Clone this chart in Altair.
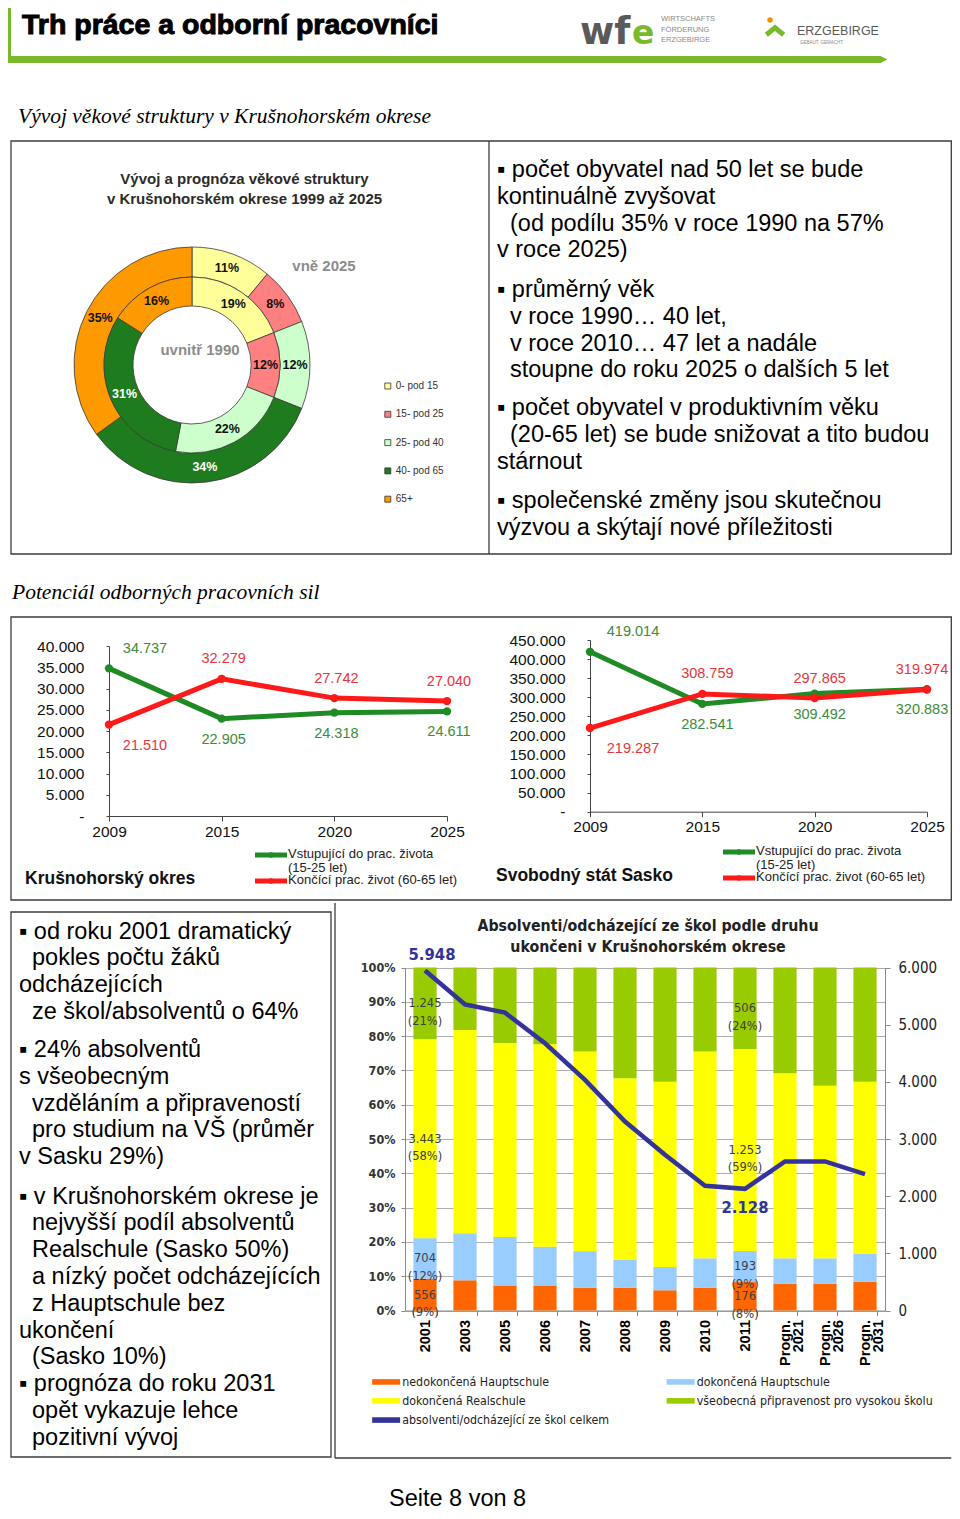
import altair as alt
import pandas as pd

OFF = 8
W, H = 944, 1503
RIGHT = 951.3  # right edge of the frames (page coordinates)


def px(v):
    return v - OFF


SANS = "Liberation Sans"
NARROW = "Liberation Sans Narrow, DejaVu Sans Condensed, Liberation Sans, sans-serif"
SERIF = "Liberation Serif"

# ---------------- data ----------------
age_groups = ["0- pod 15", "15- pod 25", "25- pod 40", "40- pod 65", "65+"]
age_share_1990 = [19, 12, 22, 31, 16]
age_share_2025 = [11, 8, 12, 34, 35]

line_years = ["2009", "2015", "2020", "2025"]
line_series = ["Vstupující do prac. života\n(15-25 let)", "Končící prac. život (60-65 let)"]
krus_entering = [34737, 22905, 24318, 24611]
krus_leaving = [21510, 32279, 27742, 27040]
sax_entering = [419014, 282541, 309492, 320883]
sax_leaving = [219287, 308759, 297865, 319974]

school_years = ["2001", "2003", "2005", "2006", "2007", "2008", "2009", "2010", "2011",
                "Progn. 2021", "Progn. 2026", "Progn. 2031"]
school_types = ["nedokončená Hauptschule", "dokončená Hauptschule", "dokončená Realschule",
                "všeobecná připravenost pro vysokou školu"]
total_name = "absolventi/odcházející ze škol celkem"
share_nedok_haupt = [9.3, 8.8, 7.3, 7.3, 6.6, 6.6, 5.9, 6.6, 8.3, 7.8, 7.8, 8.4]
share_dok_haupt = [11.8, 13.7, 14.1, 11.3, 10.7, 8.2, 6.8, 8.6, 9.1, 7.4, 7.4, 8.2]
share_realschule = [58.0, 59.3, 56.6, 59.0, 58.2, 52.9, 54.0, 60.3, 58.9, 54.0, 50.3, 50.1]
share_gymnasium = [20.9, 18.2, 22.0, 22.4, 24.5, 32.3, 33.3, 24.5, 23.8, 30.8, 34.5, 33.3]
school_totals = [5948, 5355, 5210, 4674, 4034, 3306, 2724, 2183, 2128, 2608, 2608, 2387]
counts_2001 = [556, 704, 3443, 1245]
counts_2011 = [176, 193, 1253, 506]

# text blocks: (indented?, line)
text_age = [
    [(0, "▪ počet obyvatel nad 50 let se bude"), (0, "kontinuálně zvyšovat"),
     (1, "(od podílu 35% v roce 1990 na 57%"), (0, "v roce 2025)")],
    [(0, "▪ průměrný věk"), (1, "v roce 1990… 40 let,"), (1, "v roce 2010… 47 let a nadále"),
     (1, "stoupne do roku 2025 o dalších 5 let")],
    [(0, "▪ počet obyvatel v produktivním věku"), (1, "(20-65 let) se bude snižovat a tito budou"),
     (0, "stárnout")],
    [(0, "▪ společenské změny jsou skutečnou"), (0, "výzvou a skýtají nové příležitosti")],
]
text_school = [
    [(0, "▪ od roku 2001 dramatický"), (1, "pokles počtu žáků"), (0, "odcházejících"),
     (1, "ze škol/absolventů o 64%")],
    [(0, "▪ 24% absolventů"), (0, "s všeobecným"), (1, "vzděláním a připraveností"),
     (1, "pro studium na VŠ (průměr"), (0, "v Sasku 29%)")],
    [(0, "▪ v Krušnohorském okrese je"), (1, "nejvyšší podíl absolventů"),
     (1, "Realschule (Sasko 50%)"), (1, "a nízký počet odcházejících"), (1, "z Hauptschule bez"),
     (0, "ukončení"), (1, "(Sasko 10%)"), (0, "▪ prognóza do roku 2031"), (1, "opět vykazuje lehce"),
     (1, "pozitivní vývoj")],
]

# ---------------- styles ----------------
GREEN_BAR = "#7AB929"
FRAME = "#3c3c3c"
age_colors = ["#FFFF99", "#FF8080", "#CCFFCC", "#1E7B1E", "#FF9900"]
LINE_COLORS = ["#1F8B24", "#FF1A1A"]
LABEL_COLORS = ["#3D8B3D", "#E8353B"]
bar_colors = ["#FF6600", "#99CCFF", "#FFFF00", "#99CC00"]
NAVY = "#333399"
THOUSANDS = "replace(format(datum.value, ','), ',', '.')"

layers = []


def one():
    return pd.DataFrame({"a": [0]})


def txt(s, x, y, size, font=SANS, weight="normal", style="normal", color="#000000",
        align="left", baseline="alphabetic", line_height=None, **extra):
    props = dict(x=px(x), y=px(y), fontSize=size, font=font, fontWeight=weight,
                 fontStyle=style, color=color, align=align, baseline=baseline, lineBreak="\n")
    if line_height:
        props["lineHeight"] = line_height
    props.update(extra)
    return alt.Chart(pd.DataFrame({"t": [s]})).mark_text(**props).encode(text="t:N")


def para(lines, x, y0, indent=13, size=23.5, lh=26.8):
    return [txt(line, x + (indent if ind else 0), y0 + i * lh, size) for i, (ind, line) in enumerate(lines)]


def rect(x1, y1, x2, y2, fill="transparent", stroke=None, sw=0):
    mk = dict(fill=fill)
    if stroke:
        mk.update(stroke=stroke, strokeWidth=sw)
    return alt.Chart(one()).mark_rect(**mk).encode(
        x=alt.value(px(x1)), x2=alt.value(px(x2)), y=alt.value(px(y1)), y2=alt.value(px(y2)))


def rule(x1, y1, x2, y2, color=FRAME, sw=1.3):
    return alt.Chart(one()).mark_rule(color=color, strokeWidth=sw).encode(
        x=alt.value(px(x1)), x2=alt.value(px(x2)), y=alt.value(px(y1)), y2=alt.value(px(y2)))


# ---------------- header ----------------
layers.append(rect(8, 0, 11, 60, fill=GREEN_BAR))
layers.append(rect(8, 56, 881, 63, fill=GREEN_BAR))
layers.append(alt.Chart(one()).mark_point(shape="M-1,-1L1,0L-1,1Z", size=49, filled=True,
                                          fill=GREEN_BAR, opacity=1, strokeWidth=0).encode(
    x=alt.value(px(884)), y=alt.value(px(59.5))))
layers.append(txt("Trh práce a odborní pracovníci", 22, 33.5, 28.5, weight="bold",
                  stroke="#000000", strokeWidth=1.0))
# logos (approximation)
layers.append(txt("wf", 580, 44, 37, font="DejaVu Sans", weight="bold", color="#5a5a5a"))
layers.append(txt("e", 632, 44, 33, font="DejaVu Sans", weight="bold", color=GREEN_BAR))
layers.append(txt("WIRTSCHAFTS\nFÖRDERUNG\nERZGEBIRGE", 661, 21, 7.5, color="#8a8a8a", line_height=10.5))
layers.append(alt.Chart(one()).mark_circle(size=30, color="#F39200", opacity=1).encode(
    x=alt.value(px(770)), y=alt.value(px(20))))
layers.append(alt.Chart(one()).mark_point(shape="M-1,0.2L0,-0.6L1,0.2", size=300, filled=False,
                                          stroke="#7AB929", strokeWidth=5, opacity=1).encode(
    x=alt.value(px(775)), y=alt.value(px(33))))
layers.append(txt("ERZGEBIRGE", 797, 35, 12.5, color="#5a5a5a"))
layers.append(txt("GEBAUT. GEMACHT.", 800, 44, 4.5, color="#8a8a8a"))

# ---------------- section headings ----------------
layers.append(txt("Vývoj věkové struktury v Krušnohorském okrese", 18, 122.7, 21.5,
                  font=SERIF, style="italic"))
layers.append(txt("Potenciál odborných pracovních sil", 12, 599, 21.5, font=SERIF, style="italic"))
layers.append(txt("Seite 8 von 8", 389, 1506, 23.5))

# ---------------- frames ----------------
layers.append(rect(11, 141, RIGHT, 554, stroke=FRAME, sw=1.3))
layers.append(rule(489, 141, 489, 554))
layers.append(rect(11, 617, RIGHT, 900, stroke=FRAME, sw=1.3))
layers.append(rect(11, 912, 331, 1457, stroke=FRAME, sw=1.3))
layers.append(rule(335, 903, 335, 1458))
layers.append(rule(335, 1458, RIGHT, 1458))

# ---------------- text blocks ----------------
for block, y0 in zip(text_age, [177, 297, 415, 508.3]):
    layers += para(block, 497, y0)
for block, y0 in zip(text_school, [938.5, 1057, 1203.5]):
    layers += para(block, 19, y0, indent=13)

# ---------------- donut chart ----------------
CX, CY = 192, 365
layers.append(txt("Vývoj a prognóza věkové struktury\nv Krušnohorském okrese 1999 až 2025",
                  244.5, 184, 15, weight="bold", color="#2b2b2b", align="center", line_height=19.5))
layers.append(txt("vně 2025", 324, 270.5, 15, weight="bold", color="#8c8c8c", align="center"))
layers.append(txt("uvnitř 1990", 200, 354.5, 15, weight="bold", color="#8c8c8c", align="center"))

for vals, r_in, r_out, r_lab, show_legend in [(age_share_2025, 88, 118, 103, True),
                                              (age_share_1990, 59, 88, 73.5, False)]:
    d = pd.DataFrame({"g": age_groups, "v": vals, "k": list(range(len(vals)))})
    th = alt.Theta("v:Q", stack=True, scale=alt.Scale(domain=[0, 100]))
    if show_legend:
        leg = alt.Legend(orient="none", legendX=px(382.8), legendY=px(381), title=None,
                         symbolType="square", symbolSize=36, symbolStrokeColor="#333333",
                         symbolStrokeWidth=0.8, labelFont=SANS, labelFontSize=10,
                         labelColor="#333333", rowPadding=18.3, labelOffset=3, padding=0)
    else:
        leg = None
    layers.append(alt.Chart(d).mark_arc(x=px(CX), y=px(CY), radius=r_out, radius2=r_in,
                                        stroke="#3a3a3a", strokeWidth=0.8).encode(
        theta=th,
        color=alt.Color("g:N", scale=alt.Scale(domain=age_groups, range=age_colors), legend=leg),
        order=alt.Order("k:Q")))
    layers.append(alt.Chart(d).transform_calculate(lbl="datum.v + '%'").mark_text(
        x=px(CX), y=px(CY), radius=r_lab, font=SANS, fontSize=12.5, fontWeight="bold").encode(
        theta=th, text="lbl:N", order=alt.Order("k:Q"),
        color=alt.condition("datum.g == '40- pod 65'", alt.value("#ffffff"), alt.value("#111111"))))


# ---------------- line charts ----------------
def line_panel(ent, lea, x0, x1, y0, y1, ymax, ystep, dx_expr, title, title_x, title_y,
               leg_x0, leg_y0, leg_y1):
    df = pd.DataFrame({"year": line_years * 2,
                       "s": [line_series[0]] * 4 + [line_series[1]] * 4,
                       "v": ent + lea})
    xs = alt.Scale(type="point", domain=line_years, range=[px(x0), px(x1)], padding=0)
    ys = alt.Scale(domain=[0, ymax], range=[px(y0), px(y1)], nice=False, zero=True)
    cs = alt.Scale(domain=line_series, range=LINE_COLORS)
    xax = alt.Axis(orient="bottom", offset=px(y0) - H, title=None, labelAngle=0, labelFont=SANS,
                   labelFontSize=15.5, labelColor="#111111", domainColor="#444444",
                   tickColor="#444444", tickSize=5, labelPadding=3, grid=False)
    yax = alt.Axis(orient="left", offset=-px(x0), title=None,
                   values=list(range(0, ymax + 1, ystep)),
                   labelExpr="datum.value == 0 ? '-' : " + THOUSANDS,
                   labelFont=SANS, labelFontSize=15.5, labelColor="#111111", domainColor="#444444",
                   tickColor="#444444", tickSize=3, labelPadding=22, grid=False)
    out = []
    out.append(alt.Chart(df).mark_line(strokeWidth=5).encode(
        x=alt.X("year:O", scale=xs, axis=xax), y=alt.Y("v:Q", scale=ys, axis=yax),
        color=alt.Color("s:N", scale=cs, legend=None)))
    out.append(alt.Chart(df).mark_circle(size=70, opacity=1).encode(
        x=alt.X("year:O", scale=xs, axis=None), y=alt.Y("v:Q", scale=ys, axis=None),
        color=alt.Color("s:N", scale=cs, legend=None)))
    out.append(alt.Chart(df).transform_calculate(t=THOUSANDS.replace("datum.value", "datum.v")).mark_text(
        font=SANS, fontSize=14.5, baseline="middle",
        dy=alt.expr("(indexof(datum.s, 'Vstup') == 0) == (datum.year == '2009') ? -19.5 : 21"),
        dx=alt.expr(dx_expr)).encode(
        x=alt.X("year:O", scale=xs, axis=None), y=alt.Y("v:Q", scale=ys, axis=None), text="t:N",
        color=alt.Color("s:N", scale=alt.Scale(domain=line_series, range=LABEL_COLORS), legend=None)))
    # legend
    ldf = pd.DataFrame({"s": line_series})
    ly = alt.Y("s:N", scale=alt.Scale(type="point", domain=line_series, range=[px(leg_y0), px(leg_y1)],
                                      padding=0), axis=None)
    lc = alt.Color("s:N", scale=cs, legend=None)
    out.append(alt.Chart(ldf).mark_rule(strokeWidth=5).encode(
        x=alt.value(px(leg_x0)), x2=alt.value(px(leg_x0 + 32)), y=ly, color=lc))
    out.append(alt.Chart(ldf).mark_circle(size=30, opacity=1).encode(
        x=alt.value(px(leg_x0 + 16)), y=ly, color=lc))
    out.append(alt.Chart(ldf).mark_text(font=SANS, fontSize=13, color="#222222", align="left",
                                        baseline="top", dy=-7, lineBreak="\n", lineHeight=13.5).encode(
        x=alt.value(px(leg_x0 + 33)), y=ly, text="s:N"))
    out.append(txt(title, title_x, title_y, 17.5, weight="bold", color="#111111"))
    return out


layers += line_panel(krus_entering, krus_leaving, 109, 447, 816, 646, 40000, 5000,
                     "datum.year == '2009' ? 36 : 2", "Krušnohorský okres", 25, 883.5,
                     255, 855, 881)
layers += line_panel(sax_entering, sax_leaving, 590, 927, 811.7, 640, 450000, 50000,
                     "datum.year == '2009' ? 43 : (datum.year == '2025' ? -5 : 5)",
                     "Svobodný stát Sasko", 496, 880.5, 723, 852, 878)

# ---------------- school leavers chart ----------------
layers.append(txt("Absolventi/odcházející ze škol podle druhu\nukončeni v Krušnohorském okrese",
                  648, 930.5, 15.8, font=NARROW, weight="bold", color="#222222", align="center",
                  line_height=21))

rows = []
share_lists = [share_nedok_haupt, share_dok_haupt, share_realschule, share_gymnasium]
for i, yr in enumerate(school_years):
    for k, t in enumerate(school_types):
        n = counts_2001[k] if yr == "2001" else (counts_2011[k] if yr == "2011" else None)
        rows.append({"year": yr, "type": t, "k": k, "share": share_lists[k][i], "n": n})
bars_df = pd.DataFrame(rows)
tot_df = pd.DataFrame({"year": school_years, "total": school_totals})

xs_bar = alt.Scale(type="band", domain=school_years, range=[px(405), px(885)],
                   paddingInner=0.42, paddingOuter=0.21)
ys_share = alt.Scale(domain=[0, 1], range=[px(1310.5), px(967.5)], nice=False)
ys_tot = alt.Scale(domain=[0, 6000], range=[px(1310.5), px(967.5)], nice=False)

bar_legend = alt.Legend(orient="none", direction="horizontal", legendX=px(380), legendY=px(1375.5),
                        columns=2, title=None,
                        symbolType="M-4,-0.8H4V0.8H-4Z", symbolSize=49, symbolStrokeWidth=0,
                        labelFont=NARROW, labelFontSize=12.3, labelColor="#222222", labelOffset=10,
                        rowPadding=6.2, columnPadding=56.5, padding=0, labelLimit=400)

layers.append(alt.Chart(bars_df).mark_bar().encode(
    x=alt.X("year:N", scale=xs_bar, sort=school_years,
            axis=alt.Axis(orient="bottom", offset=px(1310.5) - H, title=None, labelAngle=-90,
                          labelExpr="split(datum.label, ' ')", labelFont=SANS, labelFontWeight="bold",
                          labelFontSize=14.5, labelColor="#000000", labelLineHeight=13,
                          domainColor="#8a8a8a", tickColor="#8a8a8a", tickBand="extent",
                          tickSize=5, labelPadding=4)),
    y=alt.Y("share:Q", stack="normalize", scale=ys_share,
            axis=alt.Axis(orient="left", offset=-px(405), title=None,
                          values=[i / 10 for i in range(11)], format=".0%", grid=True,
                          gridColor="#9a9a9a", gridWidth=0.8, domainColor="#8a8a8a",
                          tickColor="#8a8a8a", tickSize=4, labelFont=NARROW, labelFontWeight="bold",
                          labelFontSize=12.5, labelColor="#333333", labelPadding=6)),
    color=alt.Color("type:N", scale=alt.Scale(domain=school_types + [total_name],
                                              range=bar_colors + [NAVY]), legend=bar_legend),
    order=alt.Order("k:Q")))

layers.append(alt.Chart(tot_df).mark_line(color=NAVY, strokeWidth=4.5).encode(
    x=alt.X("year:N", scale=xs_bar, sort=school_years, axis=None),
    y=alt.Y("total:Q", scale=ys_tot,
            axis=alt.Axis(orient="right", offset=px(885) - W, title=None,
                          values=list(range(0, 6001, 1000)), labelExpr=THOUSANDS,
                          labelFont=NARROW, labelFontSize=15, labelColor="#222222",
                          domainColor="#8a8a8a", tickColor="#8a8a8a", tickSize=5,
                          labelPadding=8, grid=False))))

layers.append(alt.Chart(tot_df).transform_filter(
    "datum.year == '2001' || datum.year == '2011'").transform_calculate(
    t=THOUSANDS.replace("datum.value", "datum.total")).mark_text(
    font=NARROW, fontWeight="bold", fontSize=16.5, color=NAVY, baseline="middle",
    dy=alt.expr("datum.year == '2001' ? -15.5 : 19.5"),
    dx=alt.expr("datum.year == '2001' ? 7 : 0")).encode(
    x=alt.X("year:N", scale=xs_bar, sort=school_years, axis=None),
    y=alt.Y("total:Q", scale=ys_tot, axis=None), text="t:N"))

layers.append(alt.Chart(bars_df).transform_joinaggregate(
    stot="sum(share)", ntot="sum(n)", groupby=["year"]).transform_window(
    cum="sum(share)", sort=[alt.SortField("k")], groupby=["year"], frame=[None, 0]).transform_filter(
    "isValid(datum.n)").transform_calculate(
    mid="(datum.cum - datum.share / 2) / datum.stot",
    t="replace(format(datum.n, ','), ',', '.') + '\\n(' + format(datum.n / datum.ntot * 100, '.0f') + '%)'"
).mark_text(font=NARROW, fontSize=12.8, color="#404040", lineBreak="\n", lineHeight=17.5,
            baseline="middle").encode(
    x=alt.X("year:N", scale=xs_bar, sort=school_years, axis=None),
    y=alt.Y("mid:Q", scale=ys_share, axis=None), text="t:N"))

chart = alt.layer(*layers).resolve_scale(
    x="independent", y="independent", color="independent", theta="independent"
).properties(width=W, height=H, autosize=alt.AutoSizeParams(type="none"), padding=0
).configure(background="white").configure_view(strokeWidth=0)

chart.save("out.html", embed_options={"renderer": "svg", "actions": False})
